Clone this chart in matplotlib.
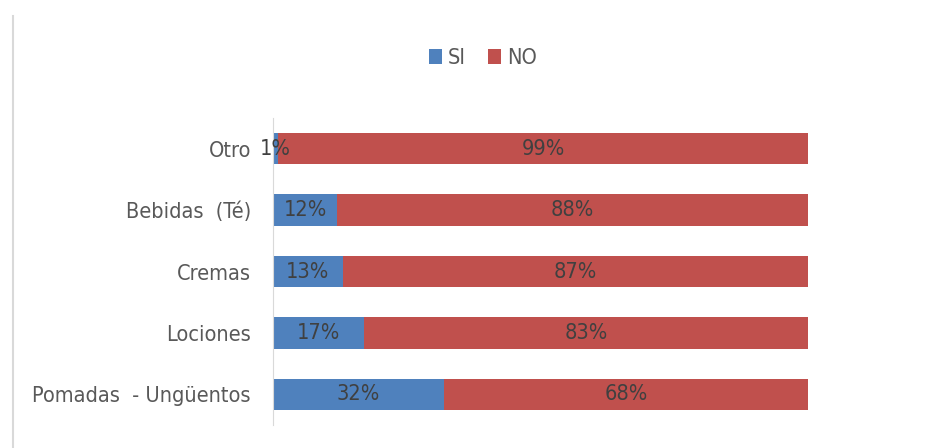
import matplotlib
matplotlib.use("Agg")
import matplotlib.pyplot as plt
from matplotlib.lines import Line2D

categories = ["Pomadas  - Ungüentos", "Lociones", "Cremas", "Bebidas  (Té)", "Otro"]
si = [32, 17, 13, 12, 1]
no = [68, 83, 87, 88, 99]
series_names = ["SI", "NO"]
colors = ["#4F81BD", "#C0504D"]

plt.rcParams['font.family'] = ['DejaVu Sans']
plt.rcParams['font.stretch'] = 'condensed'
FS = 15.6

fig = plt.figure(figsize=(9.28, 4.48), dpi=100)
ax = fig.add_axes([273/928, 1-425/448, (808-273)/928, (425-118)/448])

y = list(range(len(categories)))
b1 = ax.barh(y, si, height=0.51, color=colors[0], label=series_names[0])
b2 = ax.barh(y, no, left=si, height=0.51, color=colors[1], label=series_names[1])

for vals, lefts in [(si, [0]*len(si)), (no, si)]:
    for yi, v, l in zip(y, vals, lefts):
        ax.text(l + v/2, yi, f"{v}%", ha="center", va="center", fontsize=FS,
                color="#404040", stretch="condensed")

ax.set_xlim(0, 100)
ax.set_ylim(-0.5, len(categories) - 0.5)
ax.set_yticks(y)
ax.set_yticklabels(categories, fontsize=FS, color="#595959", stretch="condensed")
ax.tick_params(axis="y", length=0, pad=16)
ax.set_xticks([])
for s in ["top", "right", "bottom"]:
    ax.spines[s].set_visible(False)
ax.spines["left"].set_color("#D9D9D9")

fig.legend(handles=[b1, b2], labels=series_names, loc="center", bbox_to_anchor=(483/928, 1-58/448),
           ncol=2, frameon=False, handlelength=0.6, handleheight=0.7,
           handletextpad=0.3, columnspacing=1.0, labelcolor="#595959",
           prop={"size": FS, "stretch": "condensed"})

fig.add_artist(Line2D([13/928, 13/928], [0, 1-16/448], color="#D9D9D9", lw=1.5, transform=fig.transFigure))

fig.savefig("out.png", dpi=100)
